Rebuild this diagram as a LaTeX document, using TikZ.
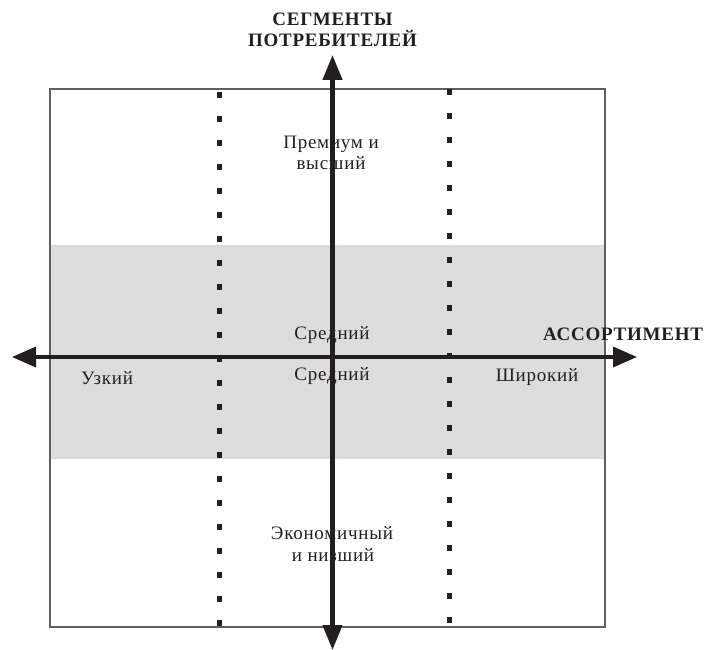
\documentclass[tikz,border=0pt]{standalone}
\usepackage{fontspec}
\setmainfont[LetterSpace=4]{Liberation Serif}
\usetikzlibrary{arrows.meta}
\definecolor{ink}{RGB}{35,31,32}
\definecolor{bandgray}{RGB}{220,220,220}
\definecolor{framegray}{RGB}{95,95,92}
\tikzset{
  lbl/.style={anchor=base, inner sep=0pt, text=ink, font=\fontsize{19}{21}\selectfont},
  bold lbl/.style={lbl, font=\fontsize{19}{21}\selectfont\bfseries},
  dotline/.style={draw=ink, line width=5pt, dash pattern=on 6pt off 18pt},
  axis/.style={draw=ink, line width=4.5pt, -{Triangle[length=25pt,width=19pt]}},
  haxis/.style={draw=ink, line width=3.6pt, {Triangle[length=24pt,width=20pt]}-{Triangle[length=24pt,width=20pt]}},
}
\begin{document}
\begin{tikzpicture}[x=1pt,y=-1pt]
\useasboundingbox (0,0) rectangle (709,650);
% band and frame
\fill[bandgray] (50,245) rectangle (605,459);
\draw[framegray, line width=1.5pt] (50,89) rectangle (605,627);
% dotted dividers
\coordinate (d1t) at (219,92);
\coordinate (d1b) at (219,627);
\coordinate (d2t) at (449,89);
\coordinate (d2b) at (449,627);
\draw[dotline] (d1t) -- (d1b);
\draw[dotline] (d2t) -- (d2b);
% labels
\node[bold lbl] (seg1) at (332.5,26) {СЕГМЕНТЫ};
\node[bold lbl] (seg2) at (332.5,47) {ПОТРЕБИТЕЛЕЙ};
\node[bold lbl] (assort) at (623,340) {АССОРТИМЕНТ};
\node[lbl] (prem1) at (331,149) {Премиум и};
\node[lbl] (prem2) at (331,169) {высший};
\node[lbl] (mid1) at (332,339) {Средний};
\node[lbl] (mid2) at (332,380) {Средний};
\node[lbl] (narrow) at (107,384) {Узкий};
\node[lbl] (wide) at (537,381) {Широкий};
\node[lbl] (eco1) at (332,539) {Экономичный};
\node[lbl] (eco2) at (333,561) {и низший};
% axes
\coordinate (vt) at (332.5,55);
\coordinate (vb) at (332.5,650);
\coordinate (c) at (332.5,357);
\coordinate (hl) at (12,357);
\coordinate (hr) at (637,357);
\draw[axis] (c) -- (vt);
\draw[axis] (c) -- (vb);
\draw[haxis] (hl) -- (hr);
\end{tikzpicture}
\end{document}
